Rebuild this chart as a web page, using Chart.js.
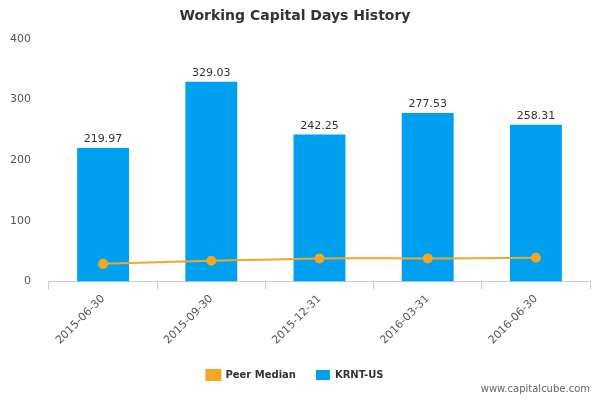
<!DOCTYPE html>
<html>
<head>
<meta charset="utf-8">
<script src="https://cdn.jsdelivr.net/npm/chart.js@4"></script>
<style>
  body { margin: 0; background: #fff; }
  #wrap { position: relative; width: 600px; height: 400px; }
  #mark { position: absolute; right: 10px; bottom: 6px; font: 10px "DejaVu Sans", sans-serif; color: #666; }
</style>
</head>
<body>
<div id="wrap">
  <canvas id="chart" width="600" height="400"></canvas>
  <div id="mark">www.capitalcube.com</div>
</div>
<script>
var categories = ['2015-06-30', '2015-09-30', '2015-12-31', '2016-03-31', '2016-06-30'];
var companyValues = [219.97, 329.03, 242.25, 277.53, 258.31];
var peerValues = [29, 34, 38, 38, 39];
var yTicks = [0, 100, 200, 300, 400];

// draws the value labels above the bars
var barLabels = {
  id: 'barLabels',
  afterDatasetsDraw: function (chart) {
    var ctx = chart.ctx;
    var meta = chart.getDatasetMeta(0);
    ctx.save();
    ctx.font = '11px "DejaVu Sans", sans-serif';
    ctx.fillStyle = '#333';
    ctx.textAlign = 'center';
    ctx.textBaseline = 'bottom';
    meta.data.forEach(function (bar, i) {
      ctx.fillText(companyValues[i].toFixed(2), bar.x, bar.y - 3);
    });
    ctx.restore();
  }
};

new Chart(document.getElementById('chart').getContext('2d'), {
  data: {
    labels: categories,
    datasets: [
      {
        type: 'bar',
        label: 'KRNT-US',
        data: companyValues,
        backgroundColor: '#00a0f0',
        barPercentage: 0.48,
        categoryPercentage: 1,
        order: 2
      },
      {
        type: 'line',
        label: 'Peer Median',
        data: peerValues,
        borderColor: '#f5a623',
        backgroundColor: '#f5a623',
        borderWidth: 2,
        pointRadius: 4,
        tension: 0.3,
        order: 1
      }
    ]
  },
  options: {
    responsive: false,
    animation: false,
    layout: { padding: { left: 0, right: 10, top: 0, bottom: 10 } },
    plugins: {
      title: {
        display: true,
        text: 'Working Capital Days History',
        font: { family: 'DejaVu Sans', size: 14, weight: 'bold' },
        color: '#333',
        padding: { top: 8, bottom: 14 }
      },
      legend: {
        position: 'bottom',
        labels: {
          font: { family: 'DejaVu Sans', size: 10, weight: 'bold' },
          color: '#333',
          boxWidth: 14,
          boxHeight: 10,
          padding: 20
        }
      },
      tooltip: { enabled: false }
    },
    scales: {
      x: {
        offset: true,
        grid: { display: true, offset: true, drawOnChartArea: false, color: '#c0d0e0', tickLength: 8 },
        border: { color: '#c0d0e0' },
        ticks: { maxRotation: 45, minRotation: 45, font: { family: 'DejaVu Sans', size: 11 }, color: '#555' }
      },
      y: {
        min: 0,
        max: 400,
        afterBuildTicks: function (axis) {
          axis.ticks = yTicks.map(function (v) { return { value: v }; });
        },
        grid: { display: false },
        border: { display: false },
        ticks: { font: { family: 'DejaVu Sans', size: 11 }, color: '#555', padding: 10 }
      }
    }
  },
  plugins: [barLabels]
});
</script>
</body>
</html>
